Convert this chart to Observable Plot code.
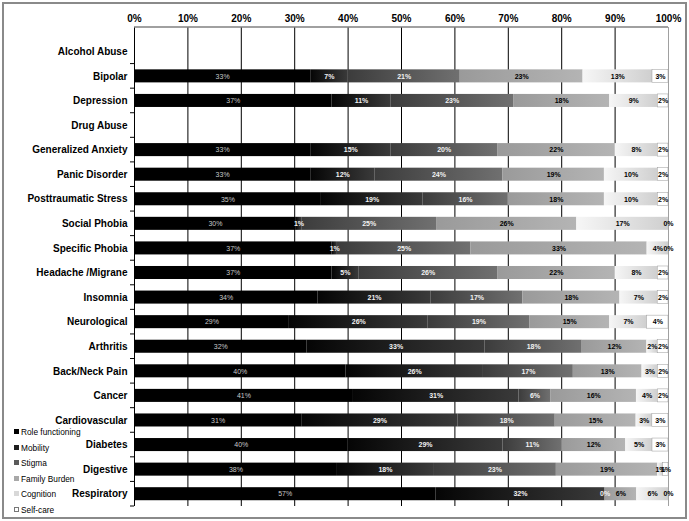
<!DOCTYPE html>
<html>
<head>
<meta charset="utf-8">
<script src="https://cdn.jsdelivr.net/npm/d3@7"></script>
<script src="https://cdn.jsdelivr.net/npm/@observablehq/plot@0.6"></script>
<style>
  html, body { margin: 0; padding: 0; background: #fff; }
  #wrap { position: relative; width: 689px; height: 521px; overflow: hidden; font-family: "Liberation Sans", Arial, sans-serif; }
  #frame { position: absolute; left: 2px; top: 2px; width: 681px; height: 513px; border: 2px solid #8a8a8a; pointer-events: none; }
  #legend { position: absolute; left: 14px; top: 425px; font-size: 8.3px; color: #000; line-height: 15.6px; }
  #legend .sw { display: inline-block; width: 5px; height: 5px; margin-right: 2px; vertical-align: 1px; box-sizing: border-box; }
</style>
</head>
<body>
<div id="wrap"><div id="chart"></div><div id="legend"></div><div id="frame"></div></div>
<script>
const categories = ["Alcohol Abuse","Bipolar","Depression","Drug Abuse","Generalized Anxiety","Panic Disorder","Posttraumatic Stress","Social Phobia","Specific Phobia","Headache /Migrane","Insomnia","Neurological","Arthritis","Back/Neck Pain","Cancer","Cardiovascular","Diabetes","Digestive","Respiratory"];
const series = ["Role functioning","Mobility","Stigma","Family Burden","Cognition","Self-care"];
const roleFunctioning = [null,33,37,null,33,33,35,30,37,37,34,29,32,40,41,31,40,38,57];
const mobility        = [null,7,11,null,15,12,19,1,1,5,21,26,33,26,31,29,29,18,32];
const stigma          = [null,21,23,null,20,24,16,25,25,26,17,19,18,17,6,18,11,23,0];
const familyBurden    = [null,23,18,null,22,19,18,26,33,22,18,15,12,13,16,15,12,19,6];
const cognition       = [null,13,9,null,8,10,10,17,4,8,7,7,2,3,4,3,5,1,6];
const selfCare        = [null,3,2,null,2,2,2,0,0,2,2,4,2,2,2,3,3,1,0];
const xTicks = [0,0.1,0.2,0.3,0.4,0.5,0.6,0.7,0.8,0.9,1];

const seriesValues = [roleFunctioning, mobility, stigma, familyBurden, cognition, selfCare];
const rows = [];
categories.forEach((c, i) => {
  seriesValues.forEach((vals, s) => {
    if (vals[i] != null) rows.push({cat: c, series: series[s], value: vals[i]});
  });
});

const gradIds = ["gRole","gMob","gStig","gFam","gCog","gSelf"];
const gradStops = [
  ["#000000","#000000"],
  ["#050505","#3a3a3a"],
  ["#3c3c3c","#707070"],
  ["#9a9a9a","#b4b4b4"],
  ["#f6f6f6","#cfcfcf"],
  ["#ffffff","#ffffff"]
];
const swatch = ["#000","#1e1e1e","#5a5a5a","#a8a8a8","#d8d8d8","#fff"];

const stackOpts = {x: "value", y: "cat", z: "series", order: series, offset: "normalize"};
const darkSet = new Set(["Mobility","Stigma"]);

const chart = Plot.plot({
  width: 689,
  height: 521,
  marginTop: 27,
  marginBottom: 15,
  marginLeft: 134,
  marginRight: 21,
  style: {fontFamily: "Liberation Sans, Arial, sans-serif", background: "#fff"},
  x: {domain: [0, 1], axis: null},
  y: {domain: categories, range: [39, 506], paddingInner: 0.47, paddingOuter: 0.235, round: false, axis: null},
  color: {domain: series, range: gradIds.map(id => `url(#${id})`)},
  marks: [
    Plot.gridX(xTicks.slice(0, -1), {stroke: "#000", strokeOpacity: 1, strokeWidth: 1}),
    Plot.gridX(xTicks.slice(-1), {stroke: "#a0a0a0", strokeOpacity: 1, strokeWidth: 1}),
    Plot.barX(rows, Plot.stackX({...stackOpts, fill: "series", stroke: d => d.series === "Self-care" ? "#999" : "none", strokeWidth: 0.5})),
    Plot.textX(rows, Plot.filter(d => d.series === "Role functioning", Plot.stackX({...stackOpts, text: d => d.value + "%", fill: "#c8c8c8", fontSize: 7}))),
    Plot.textX(rows, Plot.filter(d => darkSet.has(d.series), Plot.stackX({...stackOpts, text: d => d.value + "%", fill: "#f2f2f2", fontSize: 7, fontWeight: "bold"}))),
    Plot.textX(rows, Plot.filter(d => !darkSet.has(d.series) && d.series !== "Role functioning", Plot.stackX({...stackOpts, text: d => d.value + "%", fill: "#000", fontSize: 7, fontWeight: "bold"}))),
    Plot.ruleX([0], {stroke: "#000", strokeWidth: 1}),
    Plot.axisX(xTicks, {anchor: "top", tickSize: 0, tickPadding: 6, tickFormat: d3.format(".0%"), fontSize: 10, fontWeight: "bold", label: null}),
    Plot.axisY({anchor: "left", tickSize: 0, tickPadding: 7, fontSize: 10, fontWeight: "bold", label: null}),
    (index, scales, values, dimensions) => {
      const g = d3.create("svg:g");
      const top = dimensions.marginTop;
      g.append("line").attr("x1", scales.x(0)).attr("x2", scales.x(1)).attr("y1", top).attr("y2", top).attr("stroke", "#808080").attr("stroke-width", 1.5);
      const y = scales.y;
      const bw = typeof y.bandwidth === "function" ? y.bandwidth() : (y.bandwidth || 0);
      const cats = categories;
      const ys = [];
      for (let i = 0; i < cats.length - 1; i++) ys.push((y(cats[i]) + bw + y(cats[i + 1])) / 2);
      ys.push(dimensions.height - dimensions.marginBottom);
      ys.forEach(v => g.append("line").attr("x1", scales.x(0) - 4).attr("x2", scales.x(0)).attr("y1", v).attr("y2", v).attr("stroke", "#000"));
      return g.node();
    }
  ]
});

// gradient definitions
const defs = d3.select(chart).insert("defs", ":first-child");
gradIds.forEach((id, i) => {
  const lg = defs.append("linearGradient").attr("id", id).attr("x1", "0").attr("x2", "1").attr("y1", "0").attr("y2", "0");
  lg.append("stop").attr("offset", "0%").attr("stop-color", gradStops[i][0]);
  lg.append("stop").attr("offset", "100%").attr("stop-color", gradStops[i][1]);
});

document.getElementById("chart").appendChild(chart);

const legend = document.getElementById("legend");
series.forEach((s, i) => {
  const row = document.createElement("div");
  const sw = document.createElement("span");
  sw.className = "sw";
  sw.style.background = swatch[i];
  if (i === 5) sw.style.border = "0.8px solid #777";
  row.appendChild(sw);
  row.appendChild(document.createTextNode(s));
  legend.appendChild(row);
});
</script>
</body>
</html>
